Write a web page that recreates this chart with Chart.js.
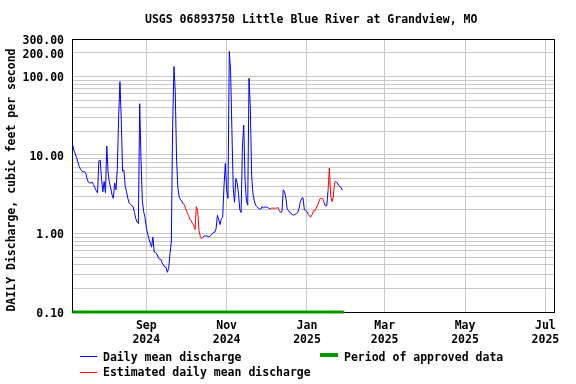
<!DOCTYPE html>
<html>
<head>
<meta charset="utf-8">
<script src="https://cdn.jsdelivr.net/npm/chart.js@4.4.1/dist/chart.umd.min.js"></script>
<style>
  body { margin: 0; background: #fff; }
  #wrap { position: relative; width: 576px; height: 384px; font: bold 11.5px "DejaVu Sans Mono", monospace; color: #000; }
  #flow { position: absolute; left: 0; top: 0; }
  .txt { position: absolute; white-space: pre; line-height: 14px; }
  .key { position: absolute; }
  #ytitle { left: -139px; top: 173px; width: 300px; text-align: center; transform: rotate(-90deg); }
</style>
</head>
<body>
<div id="wrap">
  <canvas id="flow" width="576" height="384"></canvas>
  <div class="txt" style="left:145px;top:12px">USGS 06893750 Little Blue River at Grandview, MO</div>
  <div class="txt" id="ytitle">DAILY Discharge, cubic feet per second</div>
  <div class="key" style="left:80px;top:356px;width:17px;height:1px;background:#0000ff"></div>
  <div class="txt" style="left:103px;top:350px">Daily mean discharge</div>
  <div class="key" style="left:320px;top:353px;width:18px;height:4px;background:#009900"></div>
  <div class="txt" style="left:344px;top:350px">Period of approved data</div>
  <div class="key" style="left:80px;top:372px;width:17px;height:1px;background:#ff0000"></div>
  <div class="txt" style="left:103px;top:365px">Estimated daily mean discharge</div>
</div>
<script>
// daily mean discharge, cfs, one value per day from firstDay on
const firstDay = '2024-07-07';
const dailyFlow = [
  13.7, 11.6, 10.5, 9.3, 8.2, 7.2, 6.6, 6.3, 6.1, 6.1,
  5.9, 5.0, 4.5, 4.4, 4.4, 4.5, 4.2, 3.8, 3.5, 3.3,
  8.4, 8.6, 5.0, 3.4, 4.6, 3.3, 13.0, 6.0, 4.4, 3.8,
  3.1, 2.8, 4.4, 3.6, 6.7, 30, 86, 28, 6.2, 6.4,
  4.0, 3.4, 2.8, 2.45, 2.35, 2.25, 2.2, 1.85, 1.55, 1.4,
  1.34, 45, 8.6, 2.6, 1.9, 1.6, 1.2, 1.0, 0.86, 0.76,
  0.67, 0.9, 0.58, 0.57, 0.55, 0.50, 0.47, 0.47, 0.42, 0.40,
  0.375, 0.37, 0.32, 0.36, 0.55, 0.78, 23, 134, 64, 8.6,
  3.8, 2.9, 2.7, 2.55, 2.4, 2.3, 2.05, 1.85, 1.7, 1.53,
  1.45, 1.35, 1.28, 1.12, 2.2, 1.95, 1.1, 0.92, 0.86, 0.9,
  0.93, 0.93, 0.93, 0.92, 0.91, 0.95, 0.98, 1.03, 1.04, 1.15,
  1.7, 1.5, 1.3, 1.55, 1.6, 4.0, 7.8, 3.6, 2.8, 208,
  120, 21, 3.8, 2.5, 5.0, 4.4, 3.2, 2.0, 1.85, 13,
  24, 4.7, 2.6, 2.3, 95, 39, 5.4, 3.2, 2.6, 2.3,
  2.2, 2.1, 2.05, 2.05, 2.2, 2.1, 2.2, 2.15, 2.15, 2.1,
  2.05, 2.1, 2.1, 2.1, 2.1, 2.1, 2.15, 1.95, 1.85, 1.9,
  3.6, 3.4, 2.8, 2.05, 1.95, 1.85, 1.8, 1.75, 1.72, 1.75,
  1.8, 1.85, 2.1, 2.55, 2.8, 2.85, 2.0, 1.95, 1.9, 1.75,
  1.65, 1.63, 1.75, 1.95, 1.95, 2.1, 2.3, 2.55, 2.8, 2.8,
  2.8, 2.45, 2.25, 2.25, 3.5, 6.8, 3.0, 2.55, 2.9, 4.5,
  4.6, 4.4, 4.1, 4.0, 3.8, 3.55
];
const estimatedPeriods = [
  ['2024-10-01', '2024-10-14'],
  ['2024-12-05', '2024-12-11'],
  ['2025-01-03', '2025-01-14'],
  ['2025-01-18', '2025-01-23']
];
const approvedPeriod = ['2024-07-07', '2025-01-29'];

const monthTicks = ['2024-09-01', '2024-11-01', '2025-01-01', '2025-03-01', '2025-05-01', '2025-07-01'];
const monthLabels = [['Sep', '2024'], ['Nov', '2024'], ['Jan', '2025'], ['Mar', '2025'], ['May', '2025'], ['Jul', '2025']];
const yGridValues = [0.1, 0.2, 0.3, 0.4, 0.5, 0.6, 0.7, 0.8, 0.9,
  1, 2, 3, 4, 5, 6, 7, 8, 9, 10, 20, 30, 40, 50, 60, 70, 80, 90, 100, 200, 300];
const yLabelValues = [0.1, 1, 10, 100, 200, 300];

const DAY0 = Date.UTC(2024, 6, 6);
function dayNum(s) {
    const p = s.split('-').map(Number);
    return (Date.UTC(p[0], p[1] - 1, p[2]) - DAY0) / 86400000;
}

const start = dayNum(firstDay);
const flowPoints = dailyFlow.map((v, i) => ({ x: start + i, y: v }));
const isEstimated = flowPoints.map(p =>
    estimatedPeriods.some(r => p.x >= dayNum(r[0]) && p.x <= dayNum(r[1])));

const FONT = { family: '"DejaVu Sans Mono", monospace', size: 11.5, weight: 'bold', lineHeight: '14px' };

const framePlugin = {
    id: 'frame',
    beforeDatasetsDraw(chart) {
        const a = chart.chartArea;
        const ctx = chart.ctx;
        ctx.save();
        ctx.strokeStyle = '#000';
        ctx.lineWidth = 1;
        ctx.strokeRect(Math.round(a.left) + 0.5, Math.round(a.top) + 0.5,
            Math.round(a.right - a.left) - 1, Math.round(a.bottom - a.top));
        ctx.restore();
    }
};

new Chart(document.getElementById('flow'), {
    type: 'line',
    data: {
        datasets: [{
            data: flowPoints,
            borderColor: '#0000ff',
            borderWidth: 1,
            pointRadius: 0,
            segment: {
                borderColor: c => isEstimated[c.p1DataIndex] ? '#ff0000' : '#0000ff'
            }
        }, {
            data: approvedPeriod.map(d => ({ x: dayNum(d), y: 0.1 })),
            borderColor: '#009900',
            borderWidth: 3,
            pointRadius: 0,
            clip: false
        }]
    },
    options: {
        responsive: false,
        animation: false,
        events: [],
        layout: { padding: { top: 39, right: 21, bottom: 32, left: 0 } },
        plugins: { legend: { display: false }, tooltip: { enabled: false } },
        scales: {
            x: {
                type: 'linear',
                min: 0.6,
                max: 367.3,
                afterBuildTicks: s => { s.ticks = monthTicks.map(t => ({ value: dayNum(t) })); },
                afterFit: s => { s.height = 40; },
                grid: { color: '#c8c8c8', drawTicks: false },
                border: { display: false },
                ticks: {
                    autoSkip: false,
                    maxRotation: 0,
                    padding: 7,
                    color: '#000',
                    font: FONT,
                    callback: (v, i) => monthLabels[i]
                }
            },
            y: {
                type: 'logarithmic',
                min: 0.1,
                max: 300,
                afterBuildTicks: s => { s.ticks = yGridValues.map(v => ({ value: v })); },
                afterFit: s => { s.width = 72; },
                grid: { color: '#c8c8c8', drawTicks: false },
                border: { display: false },
                ticks: {
                    autoSkip: false,
                    padding: 8,
                    labelOffset: 2,
                    color: '#000',
                    font: FONT,
                    callback: v => yLabelValues.some(l => Math.abs(l - v) < 1e-9) ? v.toFixed(2) : ''
                }
            }
        }
    },
    plugins: [framePlugin]
});
</script>
</body>
</html>
